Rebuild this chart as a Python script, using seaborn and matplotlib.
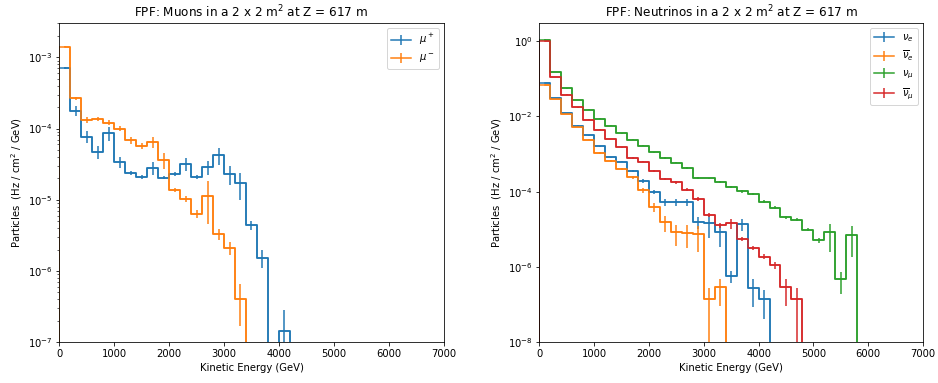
import numpy as np
import pandas as pd
import seaborn as sns
import matplotlib.pyplot as plt
from matplotlib import ticker

# 200 GeV bins from 0 to 7000 GeV
edges = np.arange(0, 7001, 200)
centers = edges[:-1] + 100

# muons (Hz / cm^2 / GeV), bins beyond the listed ones are empty
mu_plus = [7.0e-4, 1.77e-4, 7.7e-5, 4.7e-5, 8.6e-5, 3.4e-5, 2.4e-5, 2.1e-5, 2.8e-5, 2.05e-5,
           2.3e-5, 3.2e-5, 2.1e-5, 2.9e-5, 4.2e-5, 2.3e-5, 1.7e-5, 4.4e-6, 1.54e-6, 0, 1.46e-7]
mu_plus_err = [2.1e-5, 2.7e-5, 1.5e-5, 1.0e-5, 1.9e-5, 6e-6, 1.5e-6, 1.5e-6, 6e-6, 1e-6,
               1.2e-6, 6.5e-6, 1.5e-6, 6.5e-6, 1.1e-5, 7e-6, 7e-6, 6.5e-7, 4.3e-7, 0, 1.4e-7]
mu_minus = [1.41e-3, 2.66e-4, 1.32e-4, 1.36e-4, 1.21e-4, 1.0e-4, 6.8e-5, 5.75e-5, 6.4e-5, 3.6e-5,
            1.37e-5, 1.03e-5, 6.3e-6, 1.13e-5, 3.3e-6, 2.1e-6, 4.1e-7]
mu_minus_err = [2.8e-5, 1.3e-5, 1.1e-5, 8e-6, 1e-5, 8e-6, 7e-6, 6e-6, 1.1e-5, 9e-6,
                1e-6, 9e-7, 8e-7, 6.8e-6, 5.6e-7, 4.2e-7, 2.4e-7]

# neutrinos
nu_e = [7.8e-2, 3.04e-2, 1.24e-2, 5.7e-3, 3.15e-3, 1.6e-3, 8.2e-4, 6.3e-4, 3.6e-4, 1.96e-4,
        9.8e-5, 5.4e-5, 5.3e-5, 5.3e-5, 1.56e-5, 1.5e-5, 8.4e-6, 5.7e-7, 1.38e-5, 2.85e-7, 1.42e-7]
nu_e_err = [8e-4, 6e-4, 3e-4, 1.5e-4, 1e-4, 8e-5, 4e-5, 3e-5, 2.5e-5, 2e-5,
            1.2e-5, 1.1e-5, 1e-5, 1.2e-5, 5.5e-6, 9e-6, 5e-6, 2e-7, 5e-6, 2e-7, 1e-7]
nu_e_bar = [7.0e-2, 2.92e-2, 1.17e-2, 5.3e-3, 2.4e-3, 1.07e-3, 6.5e-4, 4.0e-4, 2.4e-4, 1.08e-4,
            3.9e-5, 1.53e-5, 8.3e-6, 8.0e-6, 7.5e-6, 1.42e-7, 2.9e-7]
nu_e_bar_err = [7e-4, 5e-4, 3e-4, 1.5e-4, 1e-4, 6e-5, 4e-5, 3e-5, 2.5e-5, 1.5e-5,
                1e-5, 7e-6, 4.6e-6, 4.8e-6, 5e-6, 1.42e-7, 2e-7]
nu_mu = [1.1, 0.15, 5.6e-2, 2.7e-2, 1.52e-2, 8.75e-3, 5.7e-3, 3.56e-3, 2.42e-3, 1.68e-3,
         1.11e-3, 7.9e-4, 5.9e-4, 4.27e-4, 2.36e-4, 2.27e-4, 1.81e-4, 1.30e-4, 1.02e-4, 8.7e-5,
         5.5e-5, 3.8e-5, 2.1e-5, 1.8e-5, 9.8e-6, 5.1e-6, 8.3e-6, 4.75e-7, 7.2e-6]
nu_mu_err = [0.01, 0.002, 8e-4, 4e-4, 2.5e-4, 1.5e-4, 1e-4, 8e-5, 6e-5, 5e-5,
             4e-5, 3e-5, 2.5e-5, 2e-5, 1.2e-5, 1.2e-5, 1e-5, 8e-6, 7e-6, 6e-6,
             5e-6, 4e-6, 2e-6, 1.5e-6, 1e-6, 7e-7, 5.8e-6, 2.8e-7, 5.4e-6]
nu_mu_bar = [1.0, 0.112, 3.8e-2, 1.75e-2, 8.2e-3, 4.47e-3, 2.52e-3, 1.54e-3, 8.0e-4, 6.3e-4,
             3.55e-4, 2.17e-4, 1.77e-4, 1.13e-4, 6.5e-5, 2.4e-5, 1.27e-5, 1.47e-5, 5.5e-6, 3.2e-6,
             1.9e-6, 1.14e-6, 2.9e-7, 1.42e-7]
nu_mu_bar_err = [0.01, 0.002, 6e-4, 3e-4, 1.5e-4, 1e-4, 7e-5, 5e-5, 4e-5, 3e-5,
                 2e-5, 1.5e-5, 1.3e-5, 1e-5, 6.5e-6, 2.5e-6, 2e-6, 4.5e-6, 6e-7, 4e-7,
                 3e-7, 2.3e-7, 2e-7, 1.42e-7]

colors = sns.color_palette("tab10")


def full(v):
    # empty bins after the last listed one
    v = np.asarray(v, dtype=float)
    return np.concatenate([v, np.zeros(len(centers) - len(v))])


def draw(ax, vals, errs, color, label):
    vals, errs = full(vals), full(errs)
    df = pd.DataFrame({"energy": centers, "rate": vals})
    sns.histplot(data=df, x="energy", weights="rate", binwidth=200, binrange=(0, 7000),
                 element="step", fill=False, color=color, linewidth=1.5, ax=ax)
    # rising edge of the first bin, like a step histogram starting from zero
    ax.plot([edges[0], edges[0]], [0, vals[0]], color=color, linewidth=1.5)
    ax.errorbar(centers, vals, yerr=errs, color=color, drawstyle="steps-mid",
                linewidth=1.5, label=label)


fig, axes = plt.subplots(1, 2, figsize=(938 / 72, 383 / 72), dpi=72)
for ax in axes:
    ax.set_yscale("log")

ax = axes[0]
draw(ax, mu_plus, mu_plus_err, colors[0], r"$\mu^+$")
draw(ax, mu_minus, mu_minus_err, colors[1], r"$\mu^-$")
ax.set_ylim(1e-7, 3e-3)
ax.set_title("FPF: Muons in a 2 x 2 m$^2$ at Z = 617 m")

ax = axes[1]
draw(ax, nu_e, nu_e_err, colors[0], r"$\nu_e$")
draw(ax, nu_e_bar, nu_e_bar_err, colors[1], r"$\overline{\nu}_e$")
draw(ax, nu_mu, nu_mu_err, colors[2], r"$\nu_\mu$")
draw(ax, nu_mu_bar, nu_mu_bar_err, colors[3], r"$\overline{\nu}_\mu$")
ax.set_ylim(1e-8, 3)
ax.yaxis.set_major_locator(ticker.LogLocator(base=100.0))
ax.yaxis.set_major_formatter(ticker.LogFormatterSciNotation(base=10))
ax.yaxis.set_minor_locator(ticker.NullLocator())
ax.set_title("FPF: Neutrinos in a 2 x 2 m$^2$ at Z = 617 m")

for ax in axes:
    ax.set_xlim(0, 7000)
    ax.set_xticks(range(0, 7001, 1000))
    ax.set_xlabel("Kinetic Energy (GeV)")
    ax.set_ylabel("Particles  (Hz / cm$^2$ / GeV)")
    ax.legend(loc="upper right")

axes[0].set_position([0.0632, 0.1063, 0.4098, 0.833])
axes[1].set_position([0.575, 0.1063, 0.409, 0.833])

fig.savefig("out.png", dpi=72)
